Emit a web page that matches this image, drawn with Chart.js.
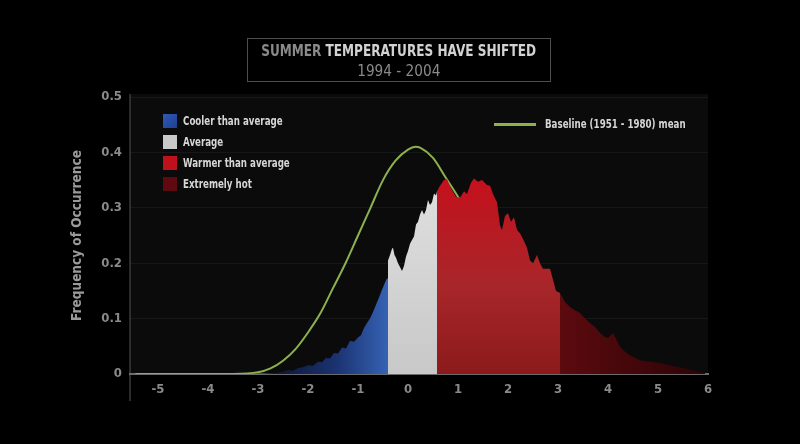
<!DOCTYPE html>
<html>
<head>
<meta charset="utf-8">
<script src="https://cdn.jsdelivr.net/npm/chart.js@4.4.1/dist/chart.umd.min.js"></script>
<style>
  html, body { margin: 0; padding: 0; background: #000; }
  #wrap { position: relative; width: 800px; height: 444px; background: #000; overflow: hidden; }
  #c { position: absolute; left: 0; top: 0; }
  .f { font-family: 'DejaVu Sans Condensed', 'Liberation Sans Narrow', 'Roboto', sans-serif; font-weight: bold; }
  #titlebox { position: absolute; left: 247px; top: 38px; width: 302px; height: 42px; border: 1px solid #4e4e4e; }
  .tl { position: absolute; left: -60px; width: 422px; text-align: center; white-space: nowrap; }
  .tl > span { display: inline-block; transform: scaleX(0.84); transform-origin: center; }
  #t1 { top: 2px; font-size: 16px; color: #d2d2d2; }
  #t1 b { color: #8a8a8a; }
  #t2 { top: 22px; font-size: 16px; color: #8a8a8a; font-weight: normal; }
  .lg { position: absolute; font-size: 11.5px; color: #d6d6d6; white-space: nowrap; transform: scaleX(0.84); transform-origin: left center; }
  .sw { position: absolute; width: 14px; height: 14px; }
</style>
</head>
<body>
<div id="wrap">
  <canvas id="c" width="800" height="444"></canvas>
  <div id="titlebox" class="f">
    <div id="t1" class="tl"><span><b>SUMMER</b> TEMPERATURES HAVE SHIFTED</span></div>
    <div id="t2" class="tl"><span style="transform:scaleX(0.95)">1994 - 2004</span></div>
  </div>
  <div class="sw" style="left:163px;top:114px;background:linear-gradient(135deg,#2f5ab8,#1f3f8e);"></div>
  <div class="lg f" style="left:183px;top:114px;">Cooler than average</div>
  <div class="sw" style="left:163px;top:135px;background:#c9c9c9;"></div>
  <div class="lg f" style="left:183px;top:135px;">Average</div>
  <div class="sw" style="left:163px;top:156px;background:#bf111c;"></div>
  <div class="lg f" style="left:183px;top:156px;">Warmer than average</div>
  <div class="sw" style="left:163px;top:177px;background:#5e0a10;"></div>
  <div class="lg f" style="left:183px;top:177px;">Extremely hot</div>
  <div style="position:absolute;left:494px;top:123px;width:42px;height:3px;background:#8db34f;"></div>
  <div class="lg f" style="left:545px;top:117px;">Baseline (1951 - 1980) mean</div>
</div>
<script>
// ---- data (temperature anomaly in standard deviations, frequency) ----
const xTicks = [-5, -4, -3, -2, -1, 0, 1, 2, 3, 4, 5, 6];
const yTicks = [0, 0.1, 0.2, 0.3, 0.4, 0.5];

const coolX = [-3.2, -2.9, -2.7, -2.5, -2.4, -2.3, -2.2, -2.1, -2.0, -1.9, -1.8, -1.72, -1.64, -1.56, -1.48, -1.4, -1.32, -1.24, -1.16, -1.08, -1.0, -0.94, -0.88, -0.82, -0.76, -0.7, -0.64, -0.58, -0.52, -0.46, -0.42, -0.4];
const coolY = [0, 0.001, 0.002, 0.004, 0.007, 0.006, 0.011, 0.012, 0.016, 0.015, 0.022, 0.021, 0.029, 0.028, 0.038, 0.037, 0.048, 0.046, 0.06, 0.058, 0.066, 0.07, 0.083, 0.092, 0.1, 0.112, 0.125, 0.138, 0.152, 0.165, 0.173, 0.172];

const avgX = [-0.4, -0.36, -0.32, -0.3, -0.27, -0.24, -0.2, -0.16, -0.12, -0.08, -0.04, 0.0, 0.04, 0.08, 0.12, 0.16, 0.2, 0.24, 0.28, 0.32, 0.36, 0.4, 0.44, 0.48, 0.52, 0.56, 0.58];
const avgY = [0.205, 0.215, 0.226, 0.228, 0.215, 0.21, 0.2, 0.193, 0.186, 0.195, 0.212, 0.222, 0.235, 0.242, 0.248, 0.27, 0.275, 0.288, 0.296, 0.288, 0.296, 0.314, 0.305, 0.31, 0.326, 0.322, 0.33];

const warmX = [0.58, 0.64, 0.72, 0.78, 0.86, 0.96, 1.04, 1.12, 1.18, 1.26, 1.32, 1.4, 1.48, 1.58, 1.64, 1.7, 1.78, 1.84, 1.88, 1.94, 2.0, 2.06, 2.12, 2.18, 2.24, 2.32, 2.38, 2.44, 2.5, 2.58, 2.64, 2.7, 2.78, 2.84, 2.9, 2.96, 3.04];
const warmY = [0.33, 0.34, 0.35, 0.352, 0.335, 0.32, 0.318, 0.33, 0.325, 0.345, 0.353, 0.347, 0.35, 0.341, 0.34, 0.325, 0.31, 0.268, 0.26, 0.285, 0.29, 0.275, 0.283, 0.26, 0.254, 0.24, 0.228, 0.205, 0.2, 0.215, 0.2, 0.19, 0.19, 0.19, 0.17, 0.15, 0.146];

const hotX = [3.04, 3.14, 3.24, 3.34, 3.44, 3.54, 3.64, 3.74, 3.84, 3.94, 4.0, 4.1, 4.18, 4.24, 4.34, 4.44, 4.64, 4.84, 5.04, 5.24, 5.5, 5.78, 5.94];
const hotY = [0.146, 0.13, 0.121, 0.115, 0.11, 0.1, 0.092, 0.085, 0.074, 0.067, 0.065, 0.074, 0.06, 0.049, 0.04, 0.034, 0.025, 0.022, 0.02, 0.016, 0.011, 0.005, 0.002];

const baseX = [-5.45, -4.0, -3.5, -3.0, -2.75, -2.5, -2.25, -2.0, -1.75, -1.5, -1.25, -1.0, -0.75, -0.5, -0.25, 0.0, 0.15, 0.25, 0.5, 0.75, 1.0, 1.25, 1.5, 1.75, 2.0, 2.5, 3.0, 3.5, 4.0, 4.5, 5.9];
const baseY = [0, 0, 0, 0.003, 0.01, 0.024, 0.045, 0.075, 0.11, 0.155, 0.2, 0.25, 0.3, 0.35, 0.385, 0.405, 0.41, 0.408, 0.39, 0.355, 0.32, 0.28, 0.235, 0.19, 0.15, 0.08, 0.035, 0.012, 0.003, 0, 0];

// ---- helpers ----
const pts = (xs, ys) => xs.map((x, i) => ({ x: x, y: ys[i] }));
const FONT = "'DejaVu Sans Condensed', 'Liberation Sans Narrow', 'Roboto', sans-serif";

function hGrad(ctx, chart, xa, xb, stops) {
  const ca = chart.chartArea;
  if (!ca) return stops[stops.length - 1][1];
  const sx = chart.scales.x;
  const g = ctx.createLinearGradient(sx.getPixelForValue(xa), 0, sx.getPixelForValue(xb), 0);
  stops.forEach(s => g.addColorStop(s[0], s[1]));
  return g;
}
function vGrad(ctx, chart, stops) {
  const ca = chart.chartArea;
  if (!ca) return stops[0][1];
  const g = ctx.createLinearGradient(0, ca.top + 80, 0, ca.bottom);
  stops.forEach(s => g.addColorStop(s[0], s[1]));
  return g;
}

const areaBase = { type: 'line', fill: 'origin', borderWidth: 0, pointRadius: 0, tension: 0, order: 1 };

const bgPlugin = {
  id: 'bg',
  beforeDraw(chart) {
    const { ctx, chartArea: ca } = chart;
    ctx.save();
    ctx.fillStyle = '#000';
    ctx.fillRect(0, 0, chart.width, chart.height);
    ctx.fillStyle = 'rgb(11,11,11)';
    ctx.fillRect(ca.left, ca.top - 3, ca.right - ca.left, ca.bottom - ca.top + 3);
    ctx.strokeStyle = '#3a3a3a';
    ctx.lineWidth = 1.5;
    ctx.beginPath();
    ctx.moveTo(ca.left, ca.top - 3);
    ctx.lineTo(ca.left, ca.bottom + 27);
    ctx.stroke();
    ctx.restore();
  }
};

new Chart(document.getElementById('c'), {
  type: 'line',
  data: {
    datasets: [
      Object.assign({}, areaBase, {
        label: 'Cooler than average', data: pts(coolX, coolY),
        backgroundColor: c => hGrad(c.chart.ctx, c.chart, -2.6, -0.4, [[0, '#0e1636'], [0.55, '#1c3474'], [1, '#3563b4']])
      }),
      Object.assign({}, areaBase, {
        label: 'Average', data: pts(avgX, avgY),
        backgroundColor: c => vGrad(c.chart.ctx, c.chart, [[0, '#e0e0e0'], [1, '#c8c8c8']])
      }),
      Object.assign({}, areaBase, {
        label: 'Warmer than average', data: pts(warmX, warmY),
        backgroundColor: c => vGrad(c.chart.ctx, c.chart, [[0, '#c5101c'], [0.55, '#a8262a'], [1, '#8c1a1c']])
      }),
      Object.assign({}, areaBase, {
        label: 'Extremely hot', data: pts(hotX, hotY),
        backgroundColor: c => hGrad(c.chart.ctx, c.chart, 3.04, 6.0, [[0, '#5c0a0e'], [1, '#2a0406']])
      }),
      {
        type: 'line', label: 'Baseline (1951 - 1980) mean', data: pts(baseX, baseY),
        borderColor: '#8db14f', borderWidth: 2, pointRadius: 0, fill: false,
        cubicInterpolationMode: 'monotone', order: 5
      }
    ]
  },
  options: {
    responsive: false,
    animation: false,
    devicePixelRatio: 1,
    layout: { padding: { top: 97, right: 92, bottom: 0, left: 0 } },
    plugins: { legend: { display: false }, tooltip: { enabled: false }, title: { display: false } },
    scales: {
      x: {
        type: 'linear', min: -5.56, max: 6, z: 1,
        afterBuildTicks: s => { s.ticks = xTicks.map(v => ({ value: v })); },
        afterFit: s => { s.height = 70; },
        ticks: { stepSize: 1, includeBounds: false, color: '#8a8a8a', padding: 8,
                 font: { family: FONT, size: 13, weight: 'bold' } },
        grid: { display: false, drawTicks: false },
        border: { display: true, color: '#6c6c6c', width: 2 }
      },
      y: {
        min: 0, max: 0.5,
        afterBuildTicks: s => { s.ticks = yTicks.map(v => ({ value: v })); },
        afterFit: s => { s.width = 130; },
        ticks: { stepSize: 0.1, color: '#8a8a8a', padding: 8,
                 font: { family: FONT, size: 13, weight: 'bold' } },
        grid: { color: 'rgba(255,255,255,0.05)', drawTicks: false },
        border: { display: false },
        title: { display: true, text: 'Frequency of Occurrence', color: '#9a9a9a',
                 font: { family: FONT, size: 13.5, weight: 'bold' }, padding: { top: 69, bottom: 0 } }
      }
    }
  },
  plugins: [bgPlugin]
});
</script>
</body>
</html>
